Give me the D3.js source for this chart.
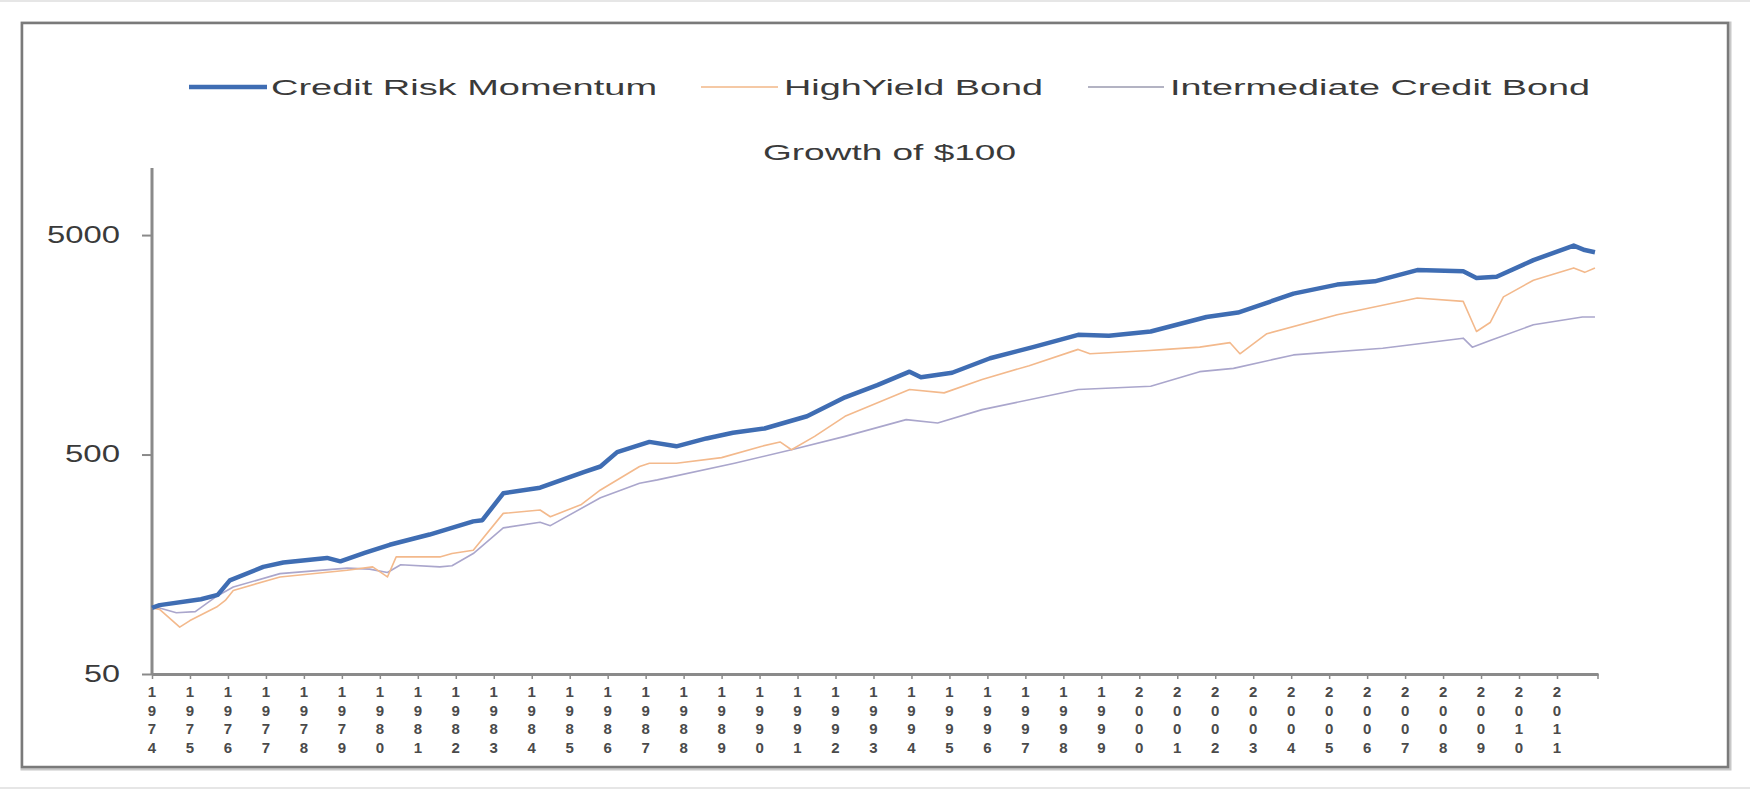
<!DOCTYPE html>
<html>
<head>
<meta charset="utf-8">
<script src="https://cdn.jsdelivr.net/npm/d3@7"></script>
<style>
  body { margin: 0; background: #fff; }
  svg { display: block; font-family: "Liberation Sans", Arial, sans-serif; }
</style>
</head>
<body>
<svg id="chart" width="1750" height="790"></svg>
<script>
// ---------------- DATA ----------------
const seriesNames = ["Credit Risk Momentum", "HighYield Bond", "Intermediate Credit Bond"];
const chartTitle = "Growth of $100";

const cmYears  = [1974.0, 1974.2, 1975.29, 1975.73, 1976.05, 1976.93, 1977.46, 1978.61, 1978.96, 1979.6, 1980.26, 1981.31, 1982.46, 1982.7, 1983.25, 1984.22, 1985.37, 1985.81, 1986.25, 1987.1, 1987.81, 1988.6, 1989.3, 1990.13, 1991.25, 1992.25, 1993.1, 1993.95, 1994.25, 1995.07, 1996.07, 1997.2, 1998.39, 1999.2, 2000.3, 2001.77, 2002.6, 2003.3, 2004.06, 2005.21, 2006.2, 2007.32, 2008.53, 2008.88, 2009.41, 2010.38, 2011.44, 2011.73, 2012.0];
const cmValues = [100, 103, 109.5, 114.7, 133.6, 153.8, 161, 169, 163, 178, 194, 216, 248, 251, 333, 353, 416, 441, 513, 571, 545, 592, 628, 657, 747, 911, 1036, 1193, 1125, 1179, 1373, 1543, 1755, 1740, 1818, 2117, 2218, 2436, 2706, 2973, 3078, 3462, 3421, 3189, 3227, 3845, 4477, 4272, 4174];

const hyYears  = [1974.0, 1974.2, 1974.73, 1975.0, 1975.7, 1975.93, 1976.14, 1977.37, 1979.14, 1979.81, 1980.2, 1980.43, 1981.58, 1981.9, 1982.46, 1983.25, 1984.22, 1984.49, 1985.31, 1985.81, 1986.84, 1987.1, 1987.81, 1989.0, 1990.04, 1990.54, 1990.84, 1991.45, 1992.25, 1993.95, 1994.86, 1995.86, 1997.1, 1998.39, 1998.7, 2000.27, 2000.71, 2001.59, 2002.39, 2002.65, 2003.36, 2005.21, 2007.32, 2008.53, 2008.88, 2009.24, 2009.59, 2010.38, 2011.44, 2011.73, 2012.0];
const hyValues = [100, 98.5, 81.7, 87.6, 100.9, 108.2, 120.2, 138.4, 148.4, 153.8, 138.4, 170.8, 170.8, 176.9, 183.3, 269.7, 279.3, 260.4, 296.1, 344.8, 441, 456.6, 456.6, 484, 544.5, 570.6, 525.6, 605, 746.7, 988.9, 954.8, 1099, 1270, 1507, 1440, 1490, 1507, 1543, 1617, 1439, 1776, 2167, 2583, 2494, 1818, 1997, 2614, 3114, 3543, 3381, 3543];

const icYears  = [1974.0, 1974.2, 1974.64, 1975.14, 1975.67, 1976.14, 1977.37, 1979.14, 1979.73, 1980.2, 1980.55, 1981.58, 1981.9, 1982.46, 1983.25, 1984.22, 1984.49, 1985.81, 1986.84, 1987.31, 1989.34, 1990.84, 1992.25, 1993.86, 1994.69, 1995.86, 1998.39, 2000.3, 2001.59, 2002.48, 2004.06, 2006.41, 2008.53, 2008.77, 2009.24, 2010.38, 2011.67, 2012.0];
const icValues = [100, 100, 95.1, 96.2, 112.1, 124.5, 143.3, 151.9, 150.2, 145, 157.4, 153.8, 155.6, 176.9, 231.6, 245.6, 237.1, 317.7, 370, 383.2, 456.6, 525.6, 605, 721.2, 696.1, 800.8, 988.9, 1024, 1193, 1235, 1422, 1525, 1695, 1543, 1656, 1950, 2117, 2117];

const xTickYears  = [1974, 1975, 1976, 1977, 1978, 1979, 1980, 1981, 1982, 1983, 1984, 1985, 1986, 1987, 1988, 1989, 1990, 1991, 1992, 1993, 1994, 1995, 1996, 1997, 1998, 1999, 2000, 2001, 2002, 2003, 2004, 2005, 2006, 2007, 2008, 2009, 2010, 2011];
const xTickLabels = ["1974", "1975", "1976", "1977", "1978", "1979", "1980", "1981", "1982", "1983", "1984", "1985", "1986", "1987", "1988", "1989", "1990", "1991", "1992", "1993", "1994", "1995", "1996", "1997", "1998", "1999", "2000", "2001", "2002", "2003", "2004", "2005", "2006", "2007", "2008", "2009", "2010", "2011"];
const yTickValues = [50, 500, 5000];
const yTickLabels = ["50", "500", "5000"];

// ---------------- LAYOUT ----------------
const svg = d3.select("#chart");
const colors = ["#3f6db3", "#f3b98c", "#aaa6cc"];
const widths = [4.5, 1.6, 1.6];

// screenshot edge lines
svg.append("line").attr("x1", 0).attr("x2", 1750).attr("y1", 1).attr("y2", 1)
  .attr("stroke", "#e6e6e6").attr("stroke-width", 2);
svg.append("line").attr("x1", 0).attr("x2", 1750).attr("y1", 788).attr("y2", 788)
  .attr("stroke", "#e6e6e6").attr("stroke-width", 2);

// frame
svg.append("rect").attr("x", 23).attr("y", 24).attr("width", 1706).attr("height", 744)
  .attr("fill", "none").attr("stroke", "#c8c8c8").attr("stroke-width", 5);
svg.append("rect").attr("x", 22).attr("y", 23).attr("width", 1706).attr("height", 744)
  .attr("fill", "#fff").attr("stroke", "#7a7a7a").attr("stroke-width", 2.5);

const x = d3.scaleLinear().domain([1974, 2012.08]).range([152, 1598]);
const y = d3.scaleLog().domain([50, 10000]).range([674, 169]);

// legend
const legendItems = [
  { name: seriesNames[0], lx1: 189, lx2: 267, tx: 271, tw: 386 },
  { name: seriesNames[1], lx1: 701, lx2: 778, tx: 784, tw: 259 },
  { name: seriesNames[2], lx1: 1088, lx2: 1164, tx: 1170, tw: 420 }
];
legendItems.forEach((d, i) => {
  svg.append("line").attr("x1", d.lx1).attr("x2", d.lx2).attr("y1", 87).attr("y2", 87)
    .attr("stroke", i === 0 ? colors[0] : (i === 1 ? "#f5c9a5" : "#b3b3c3"))
    .attr("stroke-width", i === 0 ? 4.5 : 2);
  svg.append("text").attr("x", d.tx).attr("y", 95)
    .attr("font-size", 22).attr("fill", "#3a3a3a")
    .attr("textLength", d.tw).attr("lengthAdjust", "spacingAndGlyphs")
    .text(d.name);
});

// title
svg.append("text").attr("x", 763).attr("y", 160)
  .attr("font-size", 22).attr("fill", "#3a3a3a")
  .attr("textLength", 253).attr("lengthAdjust", "spacingAndGlyphs")
  .text(chartTitle);

// y axis
const yAxis = d3.axisLeft(y).tickValues(yTickValues)
  .tickFormat((d, i) => yTickLabels[i]).tickSize(10).tickPadding(20);
const gy = svg.append("g").attr("transform", "translate(152,0)").call(yAxis);
gy.select(".domain").attr("stroke", "#8a8a8a").attr("stroke-width", 3)
  .attr("d", "M0,168V674");
gy.selectAll(".tick line").attr("stroke", "#8a8a8a").attr("stroke-width", 2);
gy.selectAll(".tick text").attr("font-size", 23).attr("fill", "#3a3a3a")
  .attr("font-family", "'Liberation Sans', Arial, sans-serif")
  .attr("x", -32)
  .attr("textLength", (d, i) => [36, 55, 73][i]).attr("lengthAdjust", "spacingAndGlyphs");

// x axis
const xAxis = d3.axisBottom(x).tickValues(xTickYears).tickFormat("").tickSize(5).tickSizeOuter(0);
const gx = svg.append("g").attr("transform", "translate(0,674)").call(xAxis);
gx.select(".domain").attr("stroke", "#8a8a8a").attr("stroke-width", 3);
gx.selectAll(".tick line").attr("stroke", "#8a8a8a").attr("stroke-width", 1.5);
// end tick
gx.append("line").attr("x1", x(2012.08)).attr("x2", x(2012.08)).attr("y1", 0).attr("y2", 5)
  .attr("stroke", "#8a8a8a").attr("stroke-width", 1.5);

// vertical stacked year labels
const labelG = svg.append("g").attr("font-size", 15).attr("fill", "#4a4a4a")
  .attr("text-anchor", "middle").attr("font-weight", "bold");
xTickYears.forEach((yr, i) => {
  const t = labelG.append("text").attr("x", x(yr)).attr("y", 697);
  xTickLabels[i].split("").forEach((ch, k) => {
    t.append("tspan").attr("x", x(yr)).attr("y", 697 + k * 18.5).text(ch);
  });
});

// lines
const line = d3.line().x(d => x(d[0])).y(d => y(d[1]));
const series = [
  { years: icYears, values: icValues, ci: 2 },
  { years: hyYears, values: hyValues, ci: 1 },
  { years: cmYears, values: cmValues, ci: 0 }
];
series.forEach(s => {
  const pts = s.years.map((yr, i) => [yr, s.values[i]]);
  svg.append("path").datum(pts).attr("d", line)
    .attr("fill", "none").attr("stroke", colors[s.ci])
    .attr("stroke-width", widths[s.ci]).attr("stroke-linejoin", "round");
});
</script>
</body>
</html>
